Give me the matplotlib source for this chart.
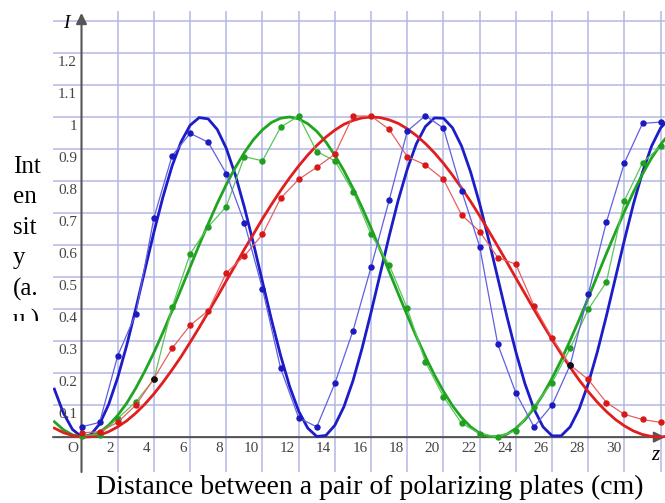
import numpy as np
import matplotlib
matplotlib.use("Agg")
import matplotlib.pyplot as plt
from matplotlib.transforms import offset_copy, Bbox, TransformedBbox

# measured points (z in cm, intensity a.u.)
z_data = np.arange(0, 33)
blue_data = [0.032, 0.046, 0.254, 0.385, 0.685, 0.878, 0.949, 0.921, 0.823, 0.670,
             0.463, 0.215, 0.060, 0.032, 0.168, 0.332, 0.531, 0.740, 0.956, 1.004,
             0.965, 0.770, 0.595, 0.290, 0.138, 0.032, 0.100, 0.225, 0.447, 0.671,
             0.857, 0.980, 0.984]
green_data = [0.005, 0.008, 0.058, 0.110, 0.180, 0.405, 0.572, 0.657, 0.720, 0.876,
              0.863, 0.968, 1.003, 0.892, 0.863, 0.767, 0.633, 0.538, 0.402, 0.235,
              0.126, 0.043, 0.011, 0.001, 0.020, 0.095, 0.170, 0.277, 0.399, 0.484,
              0.739, 0.857, 0.909]
red_data = [0.013, 0.017, 0.046, 0.100, 0.183, 0.277, 0.349, 0.395, 0.513, 0.566,
            0.633, 0.746, 0.805, 0.843, 0.884, 1.003, 1.003, 0.961, 0.876, 0.850,
            0.805, 0.694, 0.642, 0.561, 0.540, 0.410, 0.310, 0.225, 0.180, 0.108,
            0.071, 0.055, 0.046]

z_fit = np.arange(-1.5, 32.51, 0.5)
blue_fit = [0.150, 0.075, 0.024, 0.001, 0.007, 0.041, 0.102, 0.186, 0.287, 0.401,
            0.521, 0.640, 0.750, 0.846, 0.922, 0.974, 0.998, 0.994, 0.961, 0.902,
            0.819, 0.718, 0.605, 0.485, 0.366, 0.255, 0.158, 0.081, 0.028, 0.002,
            0.005, 0.037, 0.095, 0.176, 0.277, 0.390, 0.509, 0.628, 0.740, 0.837,
            0.916, 0.970, 0.997, 0.996, 0.966, 0.909, 0.828, 0.729, 0.616, 0.497,
            0.378, 0.266, 0.167, 0.088, 0.032, 0.004, 0.004, 0.032, 0.088, 0.167,
            0.266, 0.378, 0.497, 0.616, 0.729, 0.828, 0.909, 0.966, 0.996]
green_fit = [0.048, 0.023, 0.007, 0.000, 0.003, 0.015, 0.037, 0.068, 0.106, 0.153,
             0.206, 0.264, 0.327, 0.394, 0.462, 0.531, 0.600, 0.666, 0.730, 0.789,
             0.842, 0.889, 0.929, 0.960, 0.983, 0.996, 1.000, 0.994, 0.979, 0.955,
             0.922, 0.880, 0.832, 0.777, 0.717, 0.653, 0.586, 0.517, 0.448, 0.380,
             0.314, 0.252, 0.194, 0.143, 0.098, 0.061, 0.032, 0.012, 0.002, 0.001,
             0.009, 0.027, 0.054, 0.090, 0.133, 0.184, 0.240, 0.302, 0.367, 0.435,
             0.504, 0.573, 0.640, 0.705, 0.766, 0.822, 0.872, 0.914, 0.949]
red_fit = [0.028, 0.014, 0.005, 0.000, 0.001, 0.006, 0.017, 0.032, 0.051, 0.075,
           0.103, 0.135, 0.171, 0.210, 0.251, 0.296, 0.342, 0.390, 0.438, 0.488,
           0.537, 0.587, 0.634, 0.682, 0.727, 0.770, 0.810, 0.847, 0.881, 0.911,
           0.937, 0.959, 0.977, 0.989, 0.997, 1.000, 0.998, 0.991, 0.980, 0.963,
           0.942, 0.917, 0.888, 0.855, 0.818, 0.778, 0.736, 0.691, 0.644, 0.596,
           0.547, 0.497, 0.448, 0.399, 0.351, 0.305, 0.260, 0.218, 0.178, 0.142,
           0.109, 0.080, 0.055, 0.035, 0.019, 0.008, 0.002, 0.000, 0.004]

x_ticks = list(range(2, 31, 2))
y_ticks = [0.1, 0.2, 0.3, 0.4, 0.5, 0.6, 0.7, 0.8, 0.9, 1, 1.1, 1.2]

serif = "Liberation Serif"
grid_col = "#b4b6e6"

fig = plt.figure(figsize=(6.65, 5.03), dpi=100)
ax = fig.add_axes([53 / 665, 1 - 472 / 503, 612 / 665, 461 / 503])
ax.set_xlim(-1.575, 32.24)
ax.set_ylim(-0.109, 1.331)
ax.set_axis_off()

# grid
for gx in range(2, 33, 2):
    ax.axvline(gx, color=grid_col, lw=1.1, zorder=0)
for gy in range(1, 14):
    ax.axhline(gy / 10, color=grid_col, lw=1.1, zorder=0)

# axes with arrows
ax.annotate("", xy=(0, 1.325), xytext=(0, -0.109),
            arrowprops=dict(arrowstyle="-|>", color="#555555", lw=1.5,
                            mutation_scale=16, shrinkA=0, shrinkB=0), zorder=2)
ax.annotate("", xy=(32.24, 0), xytext=(-1.575, 0),
            arrowprops=dict(arrowstyle="-|>", color="#555555", lw=1.5,
                            mutation_scale=16, shrinkA=0, shrinkB=0), zorder=2)

# fits
ax.plot(z_fit, blue_fit, color="#1c1cc8", lw=2.0, zorder=3)
ax.plot(z_fit, green_fit, color="#20a520", lw=2.0, zorder=3)
ax.plot(z_fit, red_fit, color="#e01e1e", lw=2.0, zorder=3)

# data
for vals, lc, mc in [(green_data, "#5cc45c", "#1f9e1f"),
                     (red_data, "#e86060", "#d81818"),
                     (blue_data, "#6060e0", "#1a1ac0")]:
    ax.plot(z_data, vals, color=lc, lw=0.9, marker="o", ms=3.6,
            mfc=mc, mec=mc, zorder=4)

# overlapping points show dark
pairs = [(blue_data, green_data), (blue_data, red_data), (green_data, red_data)]
for a, b in pairs:
    a = np.array(a)
    b = np.array(b)
    m = np.abs(a - b) < 0.008
    ax.plot(z_data[m], a[m], "o", color="#111111", ms=3.6, zorder=5)

# tick labels
tx = offset_copy(ax.transData, fig=fig, x=-3.5, y=-5, units="dots")
for v in x_ticks:
    ax.text(v, 0, str(v), transform=tx, ha="right", va="top",
            family=serif, fontsize=11, color="#444444")
ax.text(0, 0, "O", transform=tx, ha="right", va="top",
        family=serif, fontsize=11, color="#444444")
ty = offset_copy(ax.transData, fig=fig, x=-4.5, y=-3, units="dots")
for v in y_ticks:
    ax.text(0, v, f"{v:g}", transform=ty, ha="right", va="top",
            family=serif, fontsize=11, color="#444444")

fig.text(66 / 665, 1 - 23 / 503, "I", family=serif, style="italic",
         fontsize=14, ha="center", va="center")
fig.text(655 / 665, 1 - 456 / 503, "z", family=serif, style="italic",
         fontsize=15, ha="center", va="center")

fig.text(370 / 665, 1 - 487 / 503,
         "Distance between a pair of polarizing plates (cm)",
         family=serif, fontsize=20, ha="center", va="center")

yl = fig.text(13 / 665, 1 - 156 / 503, "Int\nen\nsit\ny\n(a.\nu.)",
              family=serif, fontsize=18, ha="left", va="top", linespacing=1.49)
clip = TransformedBbox(Bbox([[0, 1 - 321 / 503], [55 / 665, 1 - 140 / 503]]),
                       fig.transFigure)
yl.set_clip_box(clip)
yl.set_clip_on(True)

fig.savefig("out.png", dpi=100)
